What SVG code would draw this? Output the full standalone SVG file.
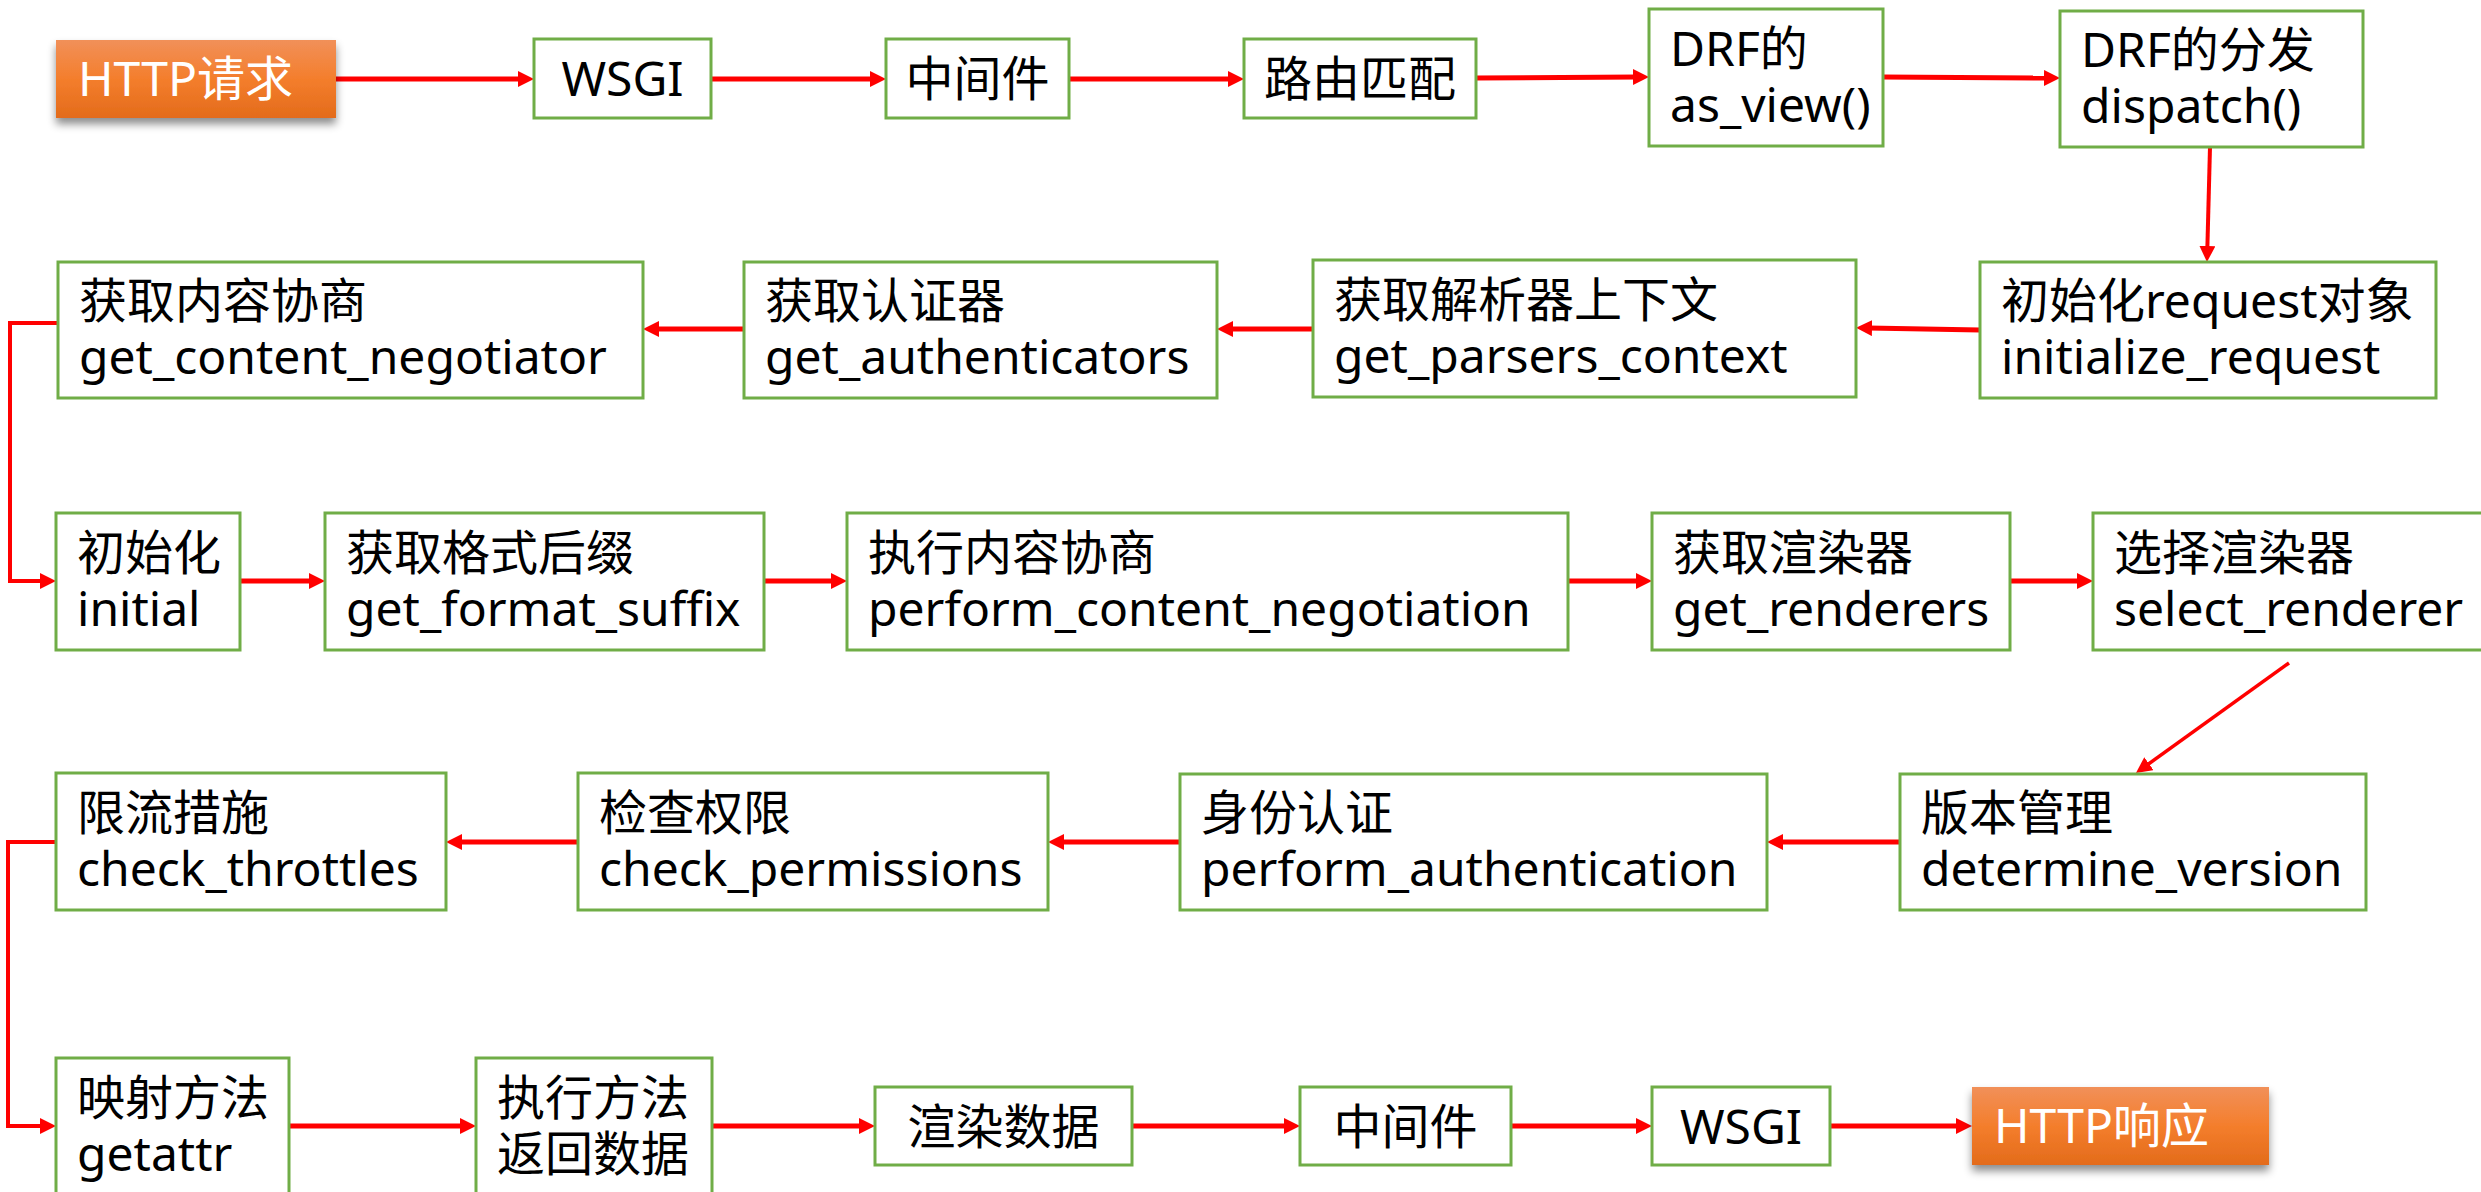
<svg xmlns="http://www.w3.org/2000/svg" width="2481" height="1192" viewBox="0 0 2481 1192">
<defs>
<linearGradient id="og" x1="0" y1="0" x2="0" y2="1">
<stop offset="0" stop-color="#F19059"/>
<stop offset="0.5" stop-color="#F47E2C"/>
<stop offset="1" stop-color="#E36B1B"/>
</linearGradient>
<filter id="sh" x="-10%" y="-20%" width="120%" height="160%">
<feDropShadow dx="0" dy="6" stdDeviation="4" flood-color="#000" flood-opacity="0.45"/>
</filter>
<marker id="ah" markerUnits="userSpaceOnUse" markerWidth="16" markerHeight="16" refX="4" refY="8" orient="auto">
<path d="M0,0 L16,8 L0,16 z" fill="#FF0000"/>
</marker>
</defs>
<style>
.box{fill:#FFFFFF;stroke:#70AD47;stroke-width:3}
.obox{fill:url(#og);filter:url(#sh)}
text{font-family:"Noto Sans","Noto Sans CJK SC",sans-serif;font-size:48px;fill:#000}
.c{text-anchor:middle}
.w{fill:#FFFFFF}
.ln{fill:none;stroke:#FF0000;stroke-width:5;marker-end:url(#ah)}
.thin{stroke-width:4}
.th3{stroke-width:3.5}
</style>
<rect width="2481" height="1192" fill="#FFFFFF"/>

<g id="connectors">
<path class="ln" d="M336,79 H522"/>
<path class="ln" d="M711,79 H874"/>
<path class="ln" d="M1069,79 H1232"/>
<path class="ln" d="M1476,78 L1637,77"/>
<path class="ln" d="M1883,77 L2048,78"/>
<path class="ln thin" d="M2210,147 L2207.3,250"/>
<path class="ln" d="M1980,330 L1868,328"/>
<path class="ln" d="M1313,329 H1229"/>
<path class="ln" d="M744,329 H655"/>
<path class="ln thin" d="M58,323 H10 V581 H44"/>
<path class="ln" d="M240,581 H313"/>
<path class="ln" d="M764,581 H835"/>
<path class="ln" d="M1568,581 H1640"/>
<path class="ln" d="M2010,581 H2081"/>
<path class="ln th3" d="M2289,663 L2145.7,766"/>
<path class="ln" d="M1900,842 H1779"/>
<path class="ln" d="M1180,842 H1060"/>
<path class="ln" d="M578,842 H458"/>
<path class="ln thin" d="M56,842 H8 V1126 H44"/>
<path class="ln" d="M289,1126 H464"/>
<path class="ln" d="M712,1126 H863"/>
<path class="ln" d="M1132,1126 H1288"/>
<path class="ln" d="M1511,1126 H1640"/>
<path class="ln" d="M1830,1126 H1960"/>
</g>

<g id="http-request"><rect class="obox" x="56" y="40" width="280" height="78"/><text class="w" x="78" y="96">HTTP请求</text></g>
<g id="wsgi-in"><rect class="box" x="534" y="39" width="177" height="79"/><text class="c" x="622.5" y="96">WSGI</text></g>
<g id="middleware-in"><rect class="box" x="886" y="39" width="183" height="79"/><text class="c" x="977.5" y="96">中间件</text></g>
<g id="routing"><rect class="box" x="1244" y="39" width="232" height="79"/><text class="c" x="1360" y="96">路由匹配</text></g>
<g id="as-view"><rect class="box" x="1649" y="9" width="234" height="137"/><text x="1670" y="65.5">DRF的</text><text x="1670" y="121.5">as_view()</text></g>
<g id="dispatch"><rect class="box" x="2060" y="11" width="303" height="136"/><text x="2081" y="67">DRF的分发</text><text x="2081" y="123">dispatch()</text></g>

<g id="initialize-request"><rect class="box" x="1980" y="262" width="456" height="136"/><text x="2001" y="318">初始化request对象</text><text x="2001" y="374">initialize_request</text></g>
<g id="parsers-context"><rect class="box" x="1313" y="260" width="543" height="137"/><text x="1334" y="316.5">获取解析器上下文</text><text x="1334" y="372.5">get_parsers_context</text></g>
<g id="authenticators"><rect class="box" x="744" y="262" width="473" height="136"/><text x="765" y="318">获取认证器</text><text x="765" y="374">get_authenticators</text></g>
<g id="content-negotiator"><rect class="box" x="58" y="262" width="585" height="136"/><text x="79" y="318">获取内容协商</text><text x="79" y="374">get_content_negotiator</text></g>

<g id="initial"><rect class="box" x="56" y="513" width="184" height="137"/><text x="77" y="569.5">初始化</text><text x="77" y="625.5">initial</text></g>
<g id="format-suffix"><rect class="box" x="325" y="513" width="439" height="137"/><text x="346" y="569.5">获取格式后缀</text><text x="346" y="625.5">get_format_suffix</text></g>
<g id="content-negotiation"><rect class="box" x="847" y="513" width="721" height="137"/><text x="868" y="569.5">执行内容协商</text><text x="868" y="625.5">perform_content_negotiation</text></g>
<g id="renderers"><rect class="box" x="1652" y="513" width="358" height="137"/><text x="1673" y="569.5">获取渲染器</text><text x="1673" y="625.5">get_renderers</text></g>
<g id="select-renderer"><rect class="box" x="2093" y="513" width="400" height="137"/><text x="2114" y="569.5">选择渲染器</text><text x="2114" y="625.5">select_renderer</text></g>

<g id="version"><rect class="box" x="1900" y="774" width="466" height="136"/><text x="1921" y="830">版本管理</text><text x="1921" y="886">determine_version</text></g>
<g id="authentication"><rect class="box" x="1180" y="774" width="587" height="136"/><text x="1201" y="830">身份认证</text><text x="1201" y="886">perform_authentication</text></g>
<g id="permissions"><rect class="box" x="578" y="773" width="470" height="137"/><text x="599" y="829.5">检查权限</text><text x="599" y="885.5">check_permissions</text></g>
<g id="throttles"><rect class="box" x="56" y="773" width="390" height="137"/><text x="77" y="829.5">限流措施</text><text x="77" y="885.5">check_throttles</text></g>

<g id="getattr"><rect class="box" x="56" y="1058" width="233" height="137"/><text x="77" y="1114.5">映射方法</text><text x="77" y="1170.5">getattr</text></g>
<g id="execute"><rect class="box" x="476" y="1058" width="236" height="137"/><text x="497" y="1114.5">执行方法</text><text x="497" y="1170.5">返回数据</text></g>
<g id="render-data"><rect class="box" x="875" y="1087" width="257" height="78"/><text class="c" x="1003.5" y="1143.5">渲染数据</text></g>
<g id="middleware-out"><rect class="box" x="1300" y="1087" width="211" height="78"/><text class="c" x="1405.5" y="1143.5">中间件</text></g>
<g id="wsgi-out"><rect class="box" x="1652" y="1087" width="178" height="78"/><text class="c" x="1741" y="1143.5">WSGI</text></g>
<g id="http-response"><rect class="obox" x="1972" y="1087" width="297" height="78"/><text class="w" x="1994" y="1143">HTTP响应</text></g>
</svg>
